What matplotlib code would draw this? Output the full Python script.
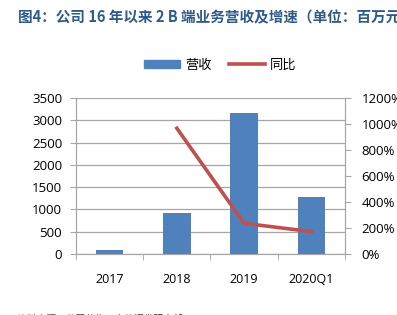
import numpy as np
import matplotlib.pyplot as plt
from matplotlib.lines import Line2D
from matplotlib.patches import Patch

plt.rcParams['font.family'] = ['Open Sans', 'Noto Sans CJK SC', 'DejaVu Sans']

# data
categories = ['2017', '2018', '2019', '2020Q1']
revenue = [80, 920, 3170, 1275]          # 营收, 百万元
growth_cats = ['2018', '2019', '2020Q1']
growth = [967, 236, 172]                 # 同比, %

bar_color = '#4F81BD'
line_color = '#C0504D'
grid_color = '#A6A6A6'

fig = plt.figure(figsize=(3.97, 3.15), dpi=100)
ax = fig.add_axes([0.1914, 0.1937, 0.869 - 0.1914, 0.689 - 0.1937])

x = np.arange(len(categories))
ax.bar(x, revenue, width=0.41, color=bar_color, zorder=3)
ax.set_xlim(-0.5, len(categories) - 0.5)
ax.set_ylim(0, 3500)
ax.set_yticks(np.arange(0, 3501, 500))
ax.grid(axis='y', color=grid_color, linewidth=0.9, zorder=0)
ax.set_xticks(x)
ax.set_xticklabels(categories, fontsize=9)
ax.set_xticks(np.arange(-0.5, len(categories), 1), minor=True)
ax.tick_params(axis='x', which='major', length=0, pad=14)
ax.tick_params(axis='x', which='minor', length=4, color=grid_color)
ax.tick_params(axis='y', labelsize=9.5, length=4, color=grid_color, pad=6)
ax.spines['top'].set_visible(False)
for s in ['left', 'right', 'bottom']:
    ax.spines[s].set_color(grid_color)

ax2 = ax.twinx()
gx = [categories.index(c) for c in growth_cats]
ax2.plot(gx, growth, color=line_color, linewidth=2.6, zorder=4)
ax2.set_ylim(0, 1200)
ax2.set_yticks(np.arange(0, 1201, 200))
ax2.set_yticklabels([f'{v}%' for v in range(0, 1201, 200)])
ax2.tick_params(axis='y', labelsize=9.5, length=4, color=grid_color, pad=8)
ax2.spines['top'].set_visible(False)
for s in ['left', 'right', 'bottom']:
    ax2.spines[s].set_color(grid_color)

handles = [Patch(color=bar_color), Line2D([0], [0], color=line_color, linewidth=2.6)]
fig.legend(handles, ['营收', '同比'], loc='center', bbox_to_anchor=(0.555, 0.793),
           ncol=2, frameon=False, fontsize=9.5, handlelength=2.7, handleheight=0.6,
           columnspacing=1.3, handletextpad=0.4)

fig.text(0.045, 0.945, '图4：公司 16 年以来 2 B 端业务营收及增速（单位：百万元）',
         fontsize=10.5, fontweight='bold', color='#2E5A8A', va='center', ha='left',
         family=['Noto Sans CJK SC', 'DejaVu Sans'])
fig.text(0.045, -0.012, '资料来源：公司公告，中信证券研究部', fontsize=7, color='#404040',
         va='center', ha='left', family=['Noto Sans CJK SC', 'DejaVu Sans'])

fig.savefig('out.png', dpi=100)
